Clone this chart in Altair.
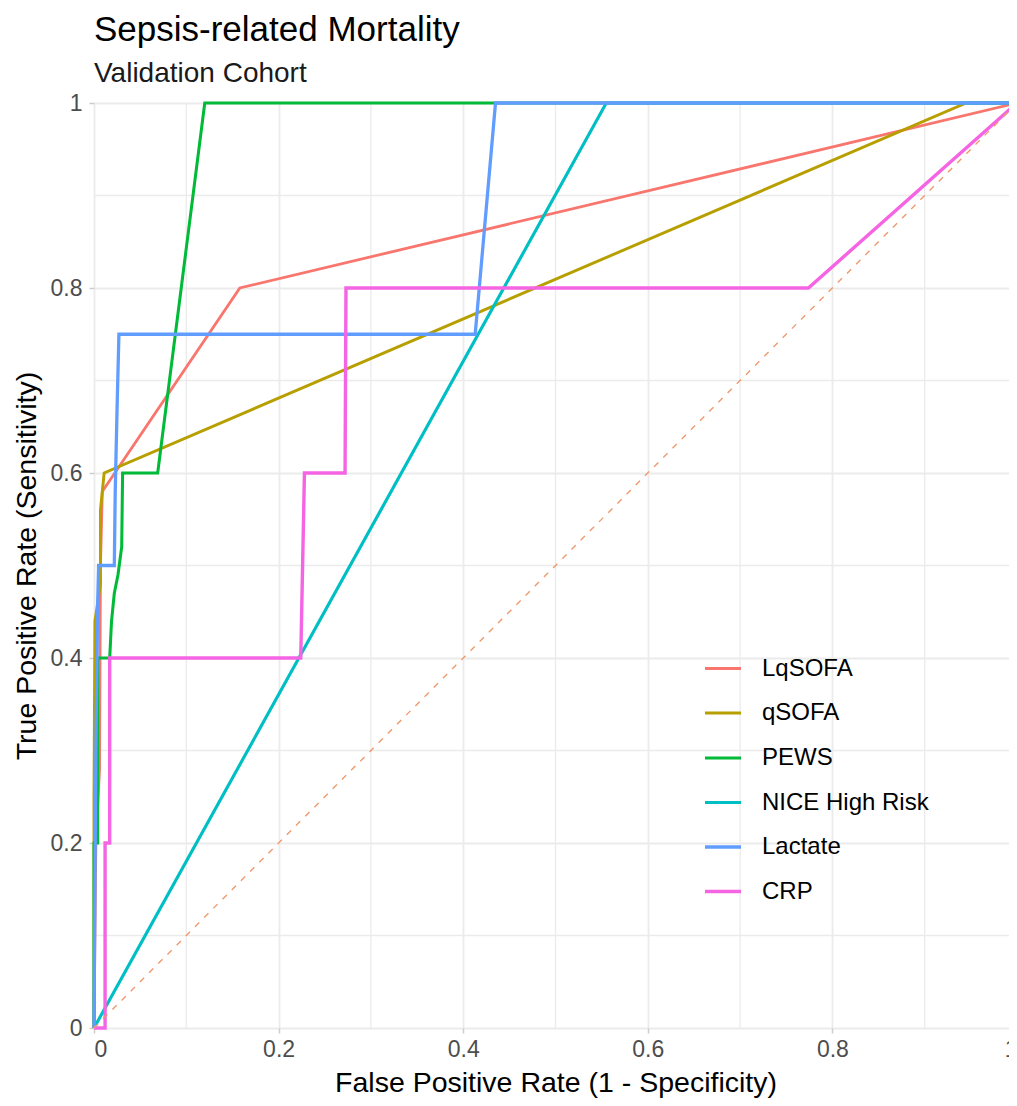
import altair as alt
import pandas as pd

series_names = ["LqSOFA", "qSOFA", "PEWS", "NICE High Risk", "Lactate", "CRP"]
series_colors = ["#F8766D", "#B79F00", "#00BA38", "#00BFC4", "#619CFF", "#F564E3"]
series_widths = [2.8, 3.4, 3.4, 2.2, 3.4, 3.4]

lqsofa_fpr = [0.0, 0.002, 0.006, 0.007, 0.009, 0.158, 1.0]
lqsofa_tpr = [0.0, 0.2, 0.28, 0.5, 0.58, 0.8, 1.0]

qsofa_fpr = [0.0, 0.0, 0.001, 0.007, 0.007, 0.011, 0.945, 1.0]
qsofa_tpr = [0.0, 0.25, 0.44, 0.48, 0.56, 0.6, 1.0, 1.0]

pews_fpr = [0.0, 0.0, 0.004, 0.004, 0.017, 0.019, 0.022, 0.026, 0.030, 0.031, 0.069, 0.12, 1.0]
pews_tpr = [0.0, 0.2, 0.2, 0.4, 0.4, 0.44, 0.47, 0.49, 0.52, 0.6, 0.6, 1.0, 1.0]

nice_fpr = [0.0, 0.555, 1.0]
nice_tpr = [0.0, 1.0, 1.0]

lactate_fpr = [0.0, 0.002, 0.004, 0.005, 0.022, 0.023, 0.025, 0.027, 0.413, 0.435, 1.0]
lactate_tpr = [0.0, 0.3, 0.46, 0.5, 0.5, 0.58, 0.67, 0.75, 0.75, 1.0, 1.0]

crp_fpr = [0.0, 0.012, 0.012, 0.017, 0.017, 0.224, 0.228, 0.272, 0.273, 0.774, 1.0]
crp_tpr = [0.0, 0.0, 0.2, 0.2, 0.4, 0.4, 0.6, 0.6, 0.8, 0.8, 1.0]

ref_x = [0.0, 1.0]
ref_y = [0.0, 1.0]

major_ticks = [0, 0.2, 0.4, 0.6, 0.8, 1]
minor_ticks = [0.1, 0.3, 0.5, 0.7, 0.9]

series_fpr = [lqsofa_fpr, qsofa_fpr, pews_fpr, nice_fpr, lactate_fpr, crp_fpr]
series_tpr = [lqsofa_tpr, qsofa_tpr, pews_tpr, nice_tpr, lactate_tpr, crp_tpr]

rows = []
for k, (name, xs, ys) in enumerate(zip(series_names, series_fpr, series_tpr)):
    for i, (xv, yv) in enumerate(zip(xs, ys)):
        rows.append({"model": name, "fpr": xv, "tpr": yv, "idx": i, "grp": k})
df = pd.DataFrame(rows)

ref_df = pd.DataFrame({"fpr": ref_x, "tpr": ref_y})
minor_df = pd.DataFrame({"v": minor_ticks})

FONT = "Liberation Sans"
GRID = "#EBEBEB"

xscale = alt.Scale(domain=[0, 1], nice=False, zero=False)
yscale = alt.Scale(domain=[0, 1], nice=False, zero=False)

minor_v = alt.Chart(minor_df).mark_rule(color=GRID, strokeWidth=1.3).encode(
    x=alt.X("v:Q", scale=xscale)
)
minor_h = alt.Chart(minor_df).mark_rule(color=GRID, strokeWidth=1.3).encode(
    y=alt.Y("v:Q", scale=yscale)
)

lines = alt.Chart(df).mark_line(strokeJoin="miter").encode(
    x=alt.X(
        "fpr:Q",
        scale=xscale,
        title="False Positive Rate (1 - Specificity)",
        axis=alt.Axis(values=major_ticks, format="~g"),
    ),
    y=alt.Y(
        "tpr:Q",
        scale=yscale,
        title="True Positive Rate (Sensitivity)",
        axis=alt.Axis(values=major_ticks, format="~g"),
    ),
    color=alt.Color(
        "model:N",
        scale=alt.Scale(domain=series_names, range=series_colors),
        sort=series_names,
        legend=alt.Legend(
            title=None,
            orient="none",
            legendX=609,
            legendY=546,
            symbolType="stroke",
            symbolSize=1296,
            symbolStrokeWidth=3,
            labelFontSize=24,
            labelFont=FONT,
            labelColor="#000000",
            labelOffset=19,
            labelLimit=400,
            rowPadding=12.5,
            padding=0,
        ),
    ),
    strokeWidth=alt.StrokeWidth(
        "model:N",
        scale=alt.Scale(domain=series_names, range=series_widths),
        legend=None,
    ),
    order=alt.Order("idx:Q"),
    detail="grp:N",
)

ref = alt.Chart(ref_df).mark_line(
    color="#EE9A6E", strokeWidth=1.4, strokeDash=[6, 7]
).encode(x=alt.X("fpr:Q", scale=xscale), y=alt.Y("tpr:Q", scale=yscale))

chart = (
    alt.layer(minor_v, minor_h, lines, ref)
    .properties(
        width=923,
        height=925,
        autosize=alt.AutoSizeParams(type="none"),
        padding={"left": 86, "top": 95, "right": -8, "bottom": 70},
        title=alt.TitleParams(
            text="Sepsis-related Mortality",
            subtitle="Validation Cohort",
            anchor="start",
            frame="group",
            font=FONT,
            fontSize=35,
            fontWeight="normal",
            color="#000000",
            subtitleFont=FONT,
            subtitleFontSize=28,
            subtitleColor="#1A1A1A",
            subtitlePadding=12,
            offset=4,
        ),
    )
    .configure_view(stroke=None)
    .configure_axis(
        gridColor=GRID,
        gridWidth=1.8,
        domain=False,
        tickColor="#CCCCCC",
        tickSize=5,
        tickWidth=1.5,
        labelFont=FONT,
        labelFontSize=23,
        labelColor="#4D4D4D",
        titleFont=FONT,
        titleFontSize=28.5,
        titleFontWeight="normal",
        titleColor="#000000",
    )
    .configure_axisX(labelPadding=5, titlePadding=7)
    .configure_axisY(labelPadding=7, titlePadding=9)
)

chart.save("out.html", embed_options={"renderer": "svg", "actions": False})
